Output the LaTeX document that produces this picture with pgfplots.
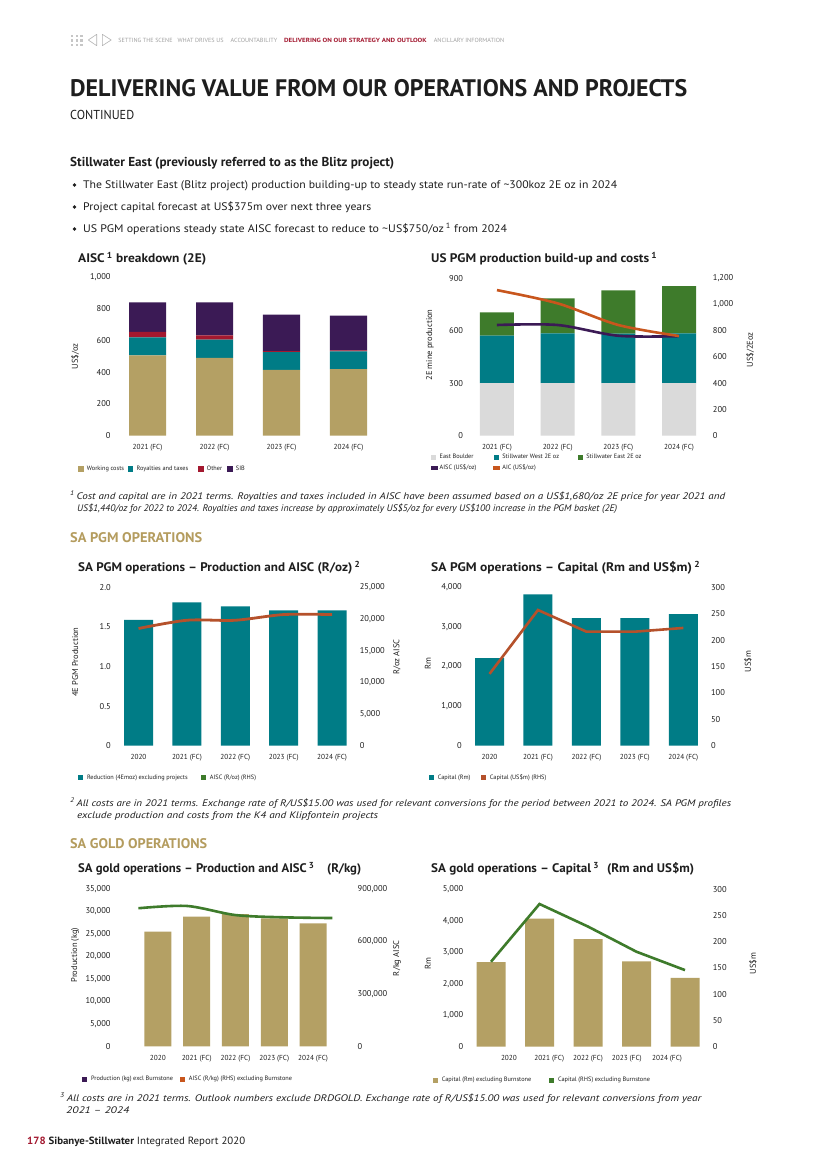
\documentclass[border=0pt]{standalone}
\usepackage{pgfplots}
\pgfplotsset{compat=1.18}
\usepackage{fontspec}
\setmainfont{PT Sans}
\usepackage{graphicx}

\definecolor{cTan}{HTML}{B4A064}
\definecolor{cTeal}{HTML}{007C86}
\definecolor{cRed}{HTML}{A3182F}
\definecolor{cPurple}{HTML}{3B1A55}
\definecolor{cGrey}{HTML}{DADADA}
\definecolor{cGreen}{HTML}{3E7B2B}
\definecolor{cOrange}{HTML}{C8561D}
\definecolor{cRust}{HTML}{B5512B}
\definecolor{cGold}{HTML}{B49C5E}
\definecolor{cNav}{HTML}{A0A0A0}
\definecolor{cText}{HTML}{1E1E1E}

\newcommand\fs[1]{\fontsize{#1}{#1}\selectfont}
\newcommand\fitw[2]{\resizebox{#1bp}{\height}{#2}}
\newcommand\lw[2]{\makebox[#1bp][l]{#2}}

\pgfplotsset{
  pg/.style={
    scale only axis, enlargelimits=false, scaled ticks=false,
    axis x line*=bottom, axis y line*=left,
    axis line style={draw=none}, major tick length=0pt,
    yticklabel style={font=\fs{8.5}, text=cText},
    xticklabel style={font=\fs{7.3}, text=cText, yshift=-5.5bp},
    ylabel style={font=\fs{8.5}, text=cText},
    legend columns=-1,
    legend cell align=left,
    legend style={draw=none, fill=none, font=\fs{6.3}, text=cText,
      inner sep=0pt, outer sep=0pt, nodes={inner sep=1bp},
      /tikz/column sep=0pt},
    /pgf/number format/assume math mode=true,
  },
  pgr/.style={
    scale only axis, enlargelimits=false, scaled ticks=false,
    axis x line=none, axis y line*=right,
    axis line style={draw=none}, major tick length=0pt,
    yticklabel style={font=\fs{8.5}, text=cText},
    ylabel style={font=\fs{8.5}, text=cText},
    /pgf/number format/assume math mode=true,
  },
  sqleg/.style={legend image code/.code={\fill[##1, draw=none] (0bp,-2.6bp) rectangle (5.2bp,2.6bp); \path (7.6bp,0bp);}},
}

\begin{document}
\begin{tikzpicture}
\path[fill=white, use as bounding box] (0,0) rectangle (826bp,-1168bp);

\begin{scope}[x=1bp, y=-1bp, every node/.style={anchor=base west, inner sep=0pt, text=cText}]
% navigation strip
\foreach \i in {0,1,2}{\foreach \j in {0,1,2}{\fill[cNav!60] (71+4.6*\i,34.5+4.6*\j) rectangle ++(2.4,2.4);}}
\draw[cNav!80, line width=0.6bp, line join=round] (96.7,34.3) -- (88.3,40) -- (96.7,45.7) -- cycle;
\draw[cNav!80, line width=0.6bp, line join=round] (102.3,34.3) -- (111.2,40) -- (102.3,45.7) -- cycle;
\node[text=cNav] at (118.3,42.6) {\fitw{54}{\fs{6}SETTING THE SCENE}};
\node[text=cNav] at (177.4,42.6) {\fitw{46}{\fs{6}WHAT DRIVES US}};
\node[text=cNav] at (230.5,42.6) {\fitw{46.5}{\fs{6}ACCOUNTABILITY}};
\node[text=cRed] at (284,42.6) {\fitw{142.5}{\fs{6}\bfseries DELIVERING ON OUR STRATEGY AND OUTLOOK}};
\node[text=cNav] at (433.6,42.6) {\fitw{70.4}{\fs{6}ANCILLARY INFORMATION}};

% page heading
\node at (70,96.2) {\fitw{617}{\fs{24}\bfseries DELIVERING VALUE FROM OUR OPERATIONS AND PROJECTS}};
\node at (70,119) {\fitw{64}{\fs{13}CONTINUED}};
\node at (70,166.5) {\fitw{324}{\fs{13}\bfseries Stillwater East (previously referred to as the Blitz project)}};
\fill[cText] (74.5,185) circle (1.8);
\fill[cText] (74.5,207) circle (1.8);
\fill[cText] (74.5,229) circle (1.8);
\node at (83,188.5) {\fitw{534}{\fs{11}The Stillwater East (Blitz project) production building-up to steady state run-rate of \textasciitilde 300koz 2E oz in 2024}};
\node at (83,210.5) {\fitw{288}{\fs{11}Project capital forecast at US\$375m over next three years}};
\node at (83,232.5) {\fitw{424}{\fs{11}US PGM operations steady state AISC forecast to reduce to \textasciitilde US\$750/oz\,\textsuperscript{1} from 2024}};

% chart titles
\node at (78,262.5) {\fitw{128}{\fs{12.5}\bfseries AISC\,\textsuperscript{1} breakdown (2E)}};
\node at (431,262.5) {\fitw{226}{\fs{12.5}\bfseries US PGM production build-up and costs\,\textsuperscript{1}}};
\node at (78,571.5) {\fitw{282}{\fs{12.5}\bfseries SA PGM operations – Production and AISC (R/oz)\,\textsuperscript{2}}};
\node at (431,571.5) {\fitw{269}{\fs{12.5}\bfseries SA PGM operations – Capital (Rm and US\$m)\,\textsuperscript{2}}};
\node at (78,872.5) {\fitw{283}{\fs{12.5}\bfseries SA gold operations – Production and AISC\,\textsuperscript{3}\hspace{1em}(R/kg)}};
\node at (431,872.5) {\fitw{263}{\fs{12.5}\bfseries SA gold operations – Capital\,\textsuperscript{3}\hspace{0.6em}(Rm and US\$m)}};

% footnotes and section heads
\node at (70,499.5) {\fitw{655}{\fs{9.5}\itshape\textsuperscript{1}\,Cost and capital are in 2021 terms. Royalties and taxes included in AISC have been assumed based on a US\$1,680/oz 2E price for year 2021 and}};
\node at (77,511.5) {\fitw{540}{\fs{9.5}\itshape US\$1,440/oz for 2022 to 2024. Royalties and taxes increase by approximately US\$5/oz for every US\$100 increase in the PGM basket (2E)}};
\node[text=cGold] at (70,542) {\fitw{132}{\fs{14}\bfseries SA PGM OPERATIONS}};
\node at (70,806.5) {\fitw{661}{\fs{9.5}\itshape\textsuperscript{2}\,All costs are in 2021 terms. Exchange rate of R/US\$15.00 was used for relevant conversions for the period between 2021 to 2024. SA PGM profiles}};
\node at (77,818.5) {\fitw{301}{\fs{9.5}\itshape exclude production and costs from the K4 and Klipfontein projects}};
\node[text=cGold] at (70,848) {\fitw{137}{\fs{14}\bfseries SA GOLD OPERATIONS}};
\node at (60,1101.5) {\fitw{641}{\fs{9.5}\itshape\textsuperscript{3}\,All costs are in 2021 terms. Outlook numbers exclude DRDGOLD. Exchange rate of R/US\$15.00 was used for relevant conversions from year}};
\node at (66,1113.5) {\fitw{63}{\fs{9.5}\itshape 2021 – 2024}};
\node at (27,1144) {\fitw{218}{\fs{10.5}\textcolor{cRed}{\bfseries 178} \textbf{Sibanye-Stillwater} Integrated Report 2020}};
\end{scope}

% ---------- AISC breakdown (2E)
\begin{axis}[pg, at={(114bp,-435.7bp)}, anchor=south west,
  width=268bp, height=158.4bp,
  ybar stacked, bar width=37bp, sqleg,
  xmin=-0.5, xmax=3.5, ymin=0, ymax=1000,
  xtick={0,1,2,3}, xticklabels={2021 (FC),2022 (FC),2023 (FC),2024 (FC)},
  ytick={0,200,400,600,800,1000}, yticklabels={0,200,400,600,800,{1,000}},
  ylabel={US\$/oz}, ylabel style={at={(axis description cs:-0.1455,0.5)}, anchor=center},
  legend style={at={(axis description cs:-0.133,-0.21)}, anchor=west},
]
\addplot[fill=cTan, draw=none] coordinates {(0,507) (1,492) (2,415) (3,421)};
\addplot[fill=cTeal, draw=none] coordinates {(0,114) (1,114) (2,113) (3,112)};
\addplot[fill=cRed, draw=none] coordinates {(0,34) (1,28) (2,6) (3,6)};
\addplot[fill=cPurple, draw=none] coordinates {(0,187) (1,208) (2,230) (3,219)};
\legend{\lw{40.1}{Working costs}, \lw{60.7}{Royalties and taxes}, \lw{19.4}{Other}, SIB}
\end{axis}

% ---------- US PGM production build-up and costs
\begin{axis}[pg, at={(466.6bp,-435.7bp)}, anchor=south west,
  width=242.8bp, height=157.4bp,
  ybar stacked, bar width=34bp, sqleg,
  xmin=-0.5, xmax=3.5, ymin=0, ymax=900,
  xtick={0,1,2,3}, xticklabels={2021 (FC),2022 (FC),2023 (FC),2024 (FC)},
  ytick={0,300,600,900},
  ylabel={2E mine production}, ylabel style={at={(axis description cs:-0.151,0.576)}, anchor=center},
  legend columns=3,
  legend style={at={(axis description cs:-0.148,-0.112)}, anchor=north west, /tikz/row sep=2bp},
]
\addplot[fill=cGrey, draw=none] coordinates {(0,300) (1,300) (2,300) (3,300)};
\addplot[fill=cTeal, draw=none] coordinates {(0,272) (1,285) (2,283) (3,285)};
\addplot[fill=cGreen, draw=none] coordinates {(0,133) (1,200) (2,248) (3,271)};
\addlegendimage{legend image code/.code={\fill[cPurple] (0bp,-1.5bp) rectangle (6bp,1.5bp); \path (7.6bp,0bp);}}
\addlegendimage{legend image code/.code={\fill[cOrange] (0bp,-1.5bp) rectangle (6bp,1.5bp); \path (7.6bp,0bp);}}
\legend{\lw{52.7}{East Boulder}, \lw{74.4}{Stillwater West 2E oz}, Stillwater East 2E oz, \lw{52.7}{AISC (US\$/oz)}, \lw{74.4}{AIC (US\$/oz)}}
\end{axis}
\begin{axis}[pgr, at={(466.6bp,-435.7bp)}, anchor=south west,
  width=242.8bp, height=157.4bp,
  xmin=-0.5, xmax=3.5, ymin=0, ymax=1200,
  ytick={0,200,400,600,800,1000,1200}, yticklabels={0,200,400,600,800,{1,000},{1,200}},
  ylabel={US\$/2Eoz}, ylabel style={at={(axis description cs:1.167,0.545)}, anchor=center},
]
\addplot[cPurple, line width=2.6bp, smooth] coordinates {(0,844) (1,844) (2,762) (3,759)};
\addplot[cOrange, line width=2.6bp, smooth] coordinates {(0,1110) (1,1009) (2,844) (3,760)};
\end{axis}

% ---------- SA PGM operations - Production and AISC
\begin{axis}[pg, at={(114.3bp,-745.7bp)}, anchor=south west,
  width=242bp, height=158.4bp, sqleg,
  xmin=-0.5, xmax=4.5, ymin=0, ymax=2,
  xtick={0,1,2,3,4}, xticklabels={2020,2021 (FC),2022 (FC),2023 (FC),2024 (FC)},
  ytick={0,0.5,1,1.5,2}, yticklabels={0,0.5,1.0,1.5,2.0},
  ylabel={4E PGM Production}, ylabel style={at={(axis description cs:-0.162,0.528)}, anchor=center},
  legend style={at={(axis description cs:-0.149,-0.202)}, anchor=west},
]
\addplot[ybar, bar width=29bp, bar shift=0pt, fill=cTeal, draw=none, forget plot]
  coordinates {(0,1.59) (1,1.81) (2,1.76) (3,1.71) (4,1.71)};
\addlegendimage{fill=cTeal}
\addlegendimage{fill=cGreen}
\legend{\lw{113.1}{Reduction (4Emoz) excluding projects}, AISC (R/oz) (RHS)}
\end{axis}
\begin{axis}[pgr, at={(114.3bp,-745.7bp)}, anchor=south west,
  width=242bp, height=158.4bp,
  xmin=-0.5, xmax=4.5, ymin=0, ymax=25000,
  ytick={0,5000,10000,15000,20000,25000}, yticklabels={0,{5,000},{10,000},{15,000},{20,000},{25,000}},
  ylabel={R/oz AISC}, ylabel style={at={(axis description cs:1.168,0.56)}, anchor=center},
]
\addplot[cRust, line width=2.8bp, smooth] coordinates {(0,18500) (1,19800) (2,19800) (3,20700) (4,20700)};
\end{axis}

% ---------- SA PGM operations - Capital
\begin{axis}[pg, at={(465.3bp,-745.7bp)}, anchor=south west,
  width=242.25bp, height=158.4bp, sqleg,
  xmin=-0.5, xmax=4.5, ymin=0, ymax=4000,
  xtick={0,1,2,3,4}, xticklabels={2020,2021 (FC),2022 (FC),2023 (FC),2024 (FC)},
  ytick={0,1000,2000,3000,4000}, yticklabels={0,{1,000},{2,000},{3,000},{4,000}},
  ylabel={Rm}, ylabel style={at={(axis description cs:-0.154,0.52)}, anchor=center},
  legend style={at={(axis description cs:-0.150,-0.202)}, anchor=west},
]
\addplot[ybar, bar width=29bp, bar shift=0pt, fill=cTeal, draw=none, forget plot]
  coordinates {(0,2210) (1,3820) (2,3220) (3,3220) (4,3320)};
\addlegendimage{fill=cTeal}
\addlegendimage{fill=cRust}
\legend{\lw{42.4}{Capital (Rm)}, Capital (US\$m) (RHS)}
\end{axis}
\begin{axis}[pgr, at={(465.3bp,-745.7bp)}, anchor=south west,
  width=242.25bp, height=158.4bp,
  xmin=-0.5, xmax=4.5, ymin=0, ymax=300,
  ytick={0,50,100,150,200,250,300},
  ylabel={US\$m}, ylabel style={at={(axis description cs:1.167,0.53)}, anchor=center},
]
\addplot[cRust, line width=2.6bp] coordinates {(0,136) (1,257) (2,216) (3,216) (4,223)};
\end{axis}

% ---------- SA gold operations - Production and AISC
\begin{axis}[pg, at={(114bp,-1046.3bp)}, anchor=south west,
  width=240.2bp, height=157.3bp, sqleg,
  xmin=-1.13, xmax=5.06, ymin=0, ymax=35000,
  xtick={0,1,2,3,4}, xticklabels={2020,2021 (FC),2022 (FC),2023 (FC),2024 (FC)},
  ytick={0,5000,10000,15000,20000,25000,30000,35000},
  yticklabels={0,{5,000},{10,000},{15,000},{20,000},{25,000},{30,000},{35,000}},
  ylabel={Production (kg)}, ylabel style={at={(axis description cs:-0.162,0.58)}, anchor=center},
  legend style={at={(axis description cs:-0.132,-0.21)}, anchor=west},
]
\addplot[ybar, bar width=27bp, bar shift=0pt, fill=cTan, draw=none, forget plot]
  coordinates {(0,25500) (1,28840) (2,29400) (3,28480) (4,27370)};
\addlegendimage{fill=cPurple}
\addlegendimage{fill=cOrange}
\legend{\lw{88.1}{Production (kg) excl Burnstone}, AISC (R/kg) (RHS) excluding Burnstone}
\end{axis}
\begin{axis}[pgr, at={(114bp,-1046.3bp)}, anchor=south west,
  width=240.2bp, height=157.3bp,
  xmin=-1.13, xmax=5.06, ymin=0, ymax=900000,
  ytick={0,300000,600000,900000}, yticklabels={0,{300,000},{600,000},{900,000}},
  ylabel={R/kg AISC}, ylabel style={at={(axis description cs:1.178,0.56)}, anchor=center},
]
\addplot[cGreen, line width=2.6bp, smooth] coordinates {(-0.5,790000) (0.75,803000) (2,751000) (3.25,738000) (4.5,734000)};
\end{axis}

% ---------- SA gold operations - Capital
\begin{axis}[pg, at={(466.75bp,-1046.7bp)}, anchor=south west,
  width=242.5bp, height=157.4bp, sqleg,
  xmin=-0.5, xmax=4.5, ymin=0, ymax=5000,
  xtick={0.37,1.2,2,2.8,3.63}, xticklabels={2020,2021 (FC),2022 (FC),2023 (FC),2024 (FC)},
  ytick={0,1000,2000,3000,4000,5000}, yticklabels={0,{1,000},{2,000},{3,000},{4,000},{5,000}},
  ylabel={Rm}, ylabel style={at={(axis description cs:-0.16,0.53)}, anchor=center},
  legend style={at={(axis description cs:-0.139,-0.213)}, anchor=west},
]
\addplot[ybar, bar width=29bp, bar shift=0pt, fill=cTan, draw=none, forget plot]
  coordinates {(0,2690) (1,4070) (2,3420) (3,2710) (4,2190)};
\addlegendimage{fill=cTan}
\addlegendimage{fill=cGreen}
\legend{\lw{106.4}{Capital (Rm) excluding Burnstone}, Capital (RHS) excluding Burnstone}
\end{axis}
\begin{axis}[pgr, at={(466.75bp,-1046.7bp)}, anchor=south west,
  width=242.5bp, height=157.4bp,
  xmin=-0.5, xmax=4.5, ymin=0, ymax=300,
  ytick={0,50,100,150,200,250,300},
  ylabel={US\$m}, ylabel style={at={(axis description cs:1.18,0.53)}, anchor=center},
]
\addplot[cGreen, line width=2.6bp] coordinates {(0,162) (1,272) (2,229) (3,181) (4,146)};
\end{axis}
\end{tikzpicture}
\end{document}
